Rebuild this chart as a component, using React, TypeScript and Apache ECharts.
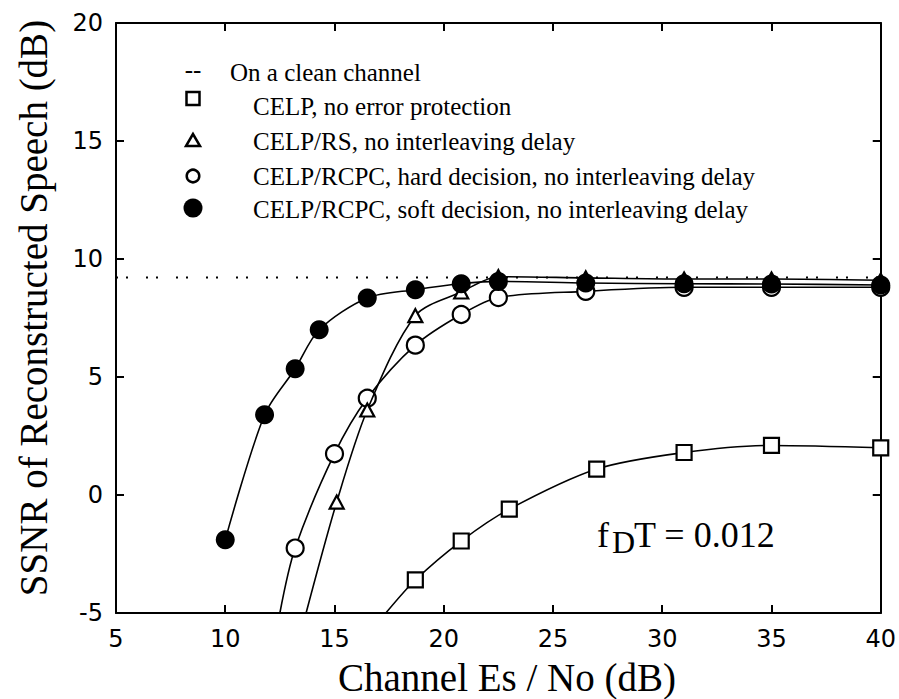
import React, { useEffect, useRef } from "react";
import * as echarts from "echarts";

// Axis ranges and ticks
const X_MIN = 5;
const X_MAX = 40;
const X_STEP = 5;
const Y_MIN = -5;
const Y_MAX = 20;
const Y_STEP = 5;

// "On a clean channel" reference level (dB)
const cleanChannelLevel = 9.22;

// CELP/RCPC, soft decision (filled circles)
const softX = [10, 11.8, 13.2, 14.3, 16.5, 18.7, 20.8, 22.5, 26.5, 31, 35, 40];
const softY = [-1.9, 3.4, 5.35, 7.0, 8.35, 8.7, 8.95, 9.05, 8.98, 8.95, 8.94, 8.9];

// CELP/RS (triangles)
const rsX = [15.1, 16.5, 18.7, 20.8, 22.5, 26.5, 31, 35, 40];
const rsY = [-0.3, 3.6, 7.6, 8.6, 9.25, 9.2, 9.15, 9.15, 9.1];
const rsCurveStart = [13.7, -5];

// CELP/RCPC, hard decision (open circles)
const hardX = [13.2, 15.0, 16.5, 18.7, 20.8, 22.5, 26.5, 31, 35, 40];
const hardY = [-2.25, 1.75, 4.1, 6.35, 7.65, 8.37, 8.63, 8.8, 8.8, 8.8];
const hardCurveStart = [12.5, -5];

// CELP, no error protection (squares)
const plainX = [18.7, 20.8, 23, 27, 31, 35, 40];
const plainY = [-3.6, -1.95, -0.6, 1.1, 1.8, 2.1, 2.0];
const plainCurveStart = [17.35, -5];

const legendLabels = [
  "On a clean channel",
  "CELP, no error protection",
  "CELP/RS, no interleaving delay",
  "CELP/RCPC, hard decision, no interleaving delay",
  "CELP/RCPC, soft decision, no interleaving delay",
];

const xTitle = "Channel Es / No (dB)";
const yTitle = "SSNR of Reconstructed Speech (dB)";

const SERIF = '"Liberation Serif", "Times New Roman", serif';
const SANS = '"DejaVu Sans", sans-serif';

function buildData(xs: number[], ys: number[], start?: number[]) {
  const out: any[] = [];
  if (start) out.push({ value: start, symbol: "none" });
  xs.forEach((x, i) => out.push({ value: [x, ys[i]] }));
  return out;
}

export default function App() {
  const ref = useRef<HTMLDivElement>(null);

  useEffect(() => {
    if (!ref.current) return;
    const chart = echarts.init(ref.current, undefined, { renderer: "svg" });

    const axisLine = { show: true, onZero: false, lineStyle: { color: "#000", width: 2 } };
    const axisTick = { show: true, inside: true, length: 8, lineStyle: { color: "#000", width: 2 } };
    const labelStyle = { color: "#000", fontFamily: SANS, fontSize: 24, fontWeight: "normal" };

    const lineBase = {
      type: "line",
      smooth: 0.3,
      silent: true,
      clip: true,
      lineStyle: { color: "#000", width: 1.6 },
      emphasis: { disabled: true },
    };

    const legendRows = [72, 106, 141, 176, 209];
    const symX = 193;

    const option: any = {
      animation: false,
      backgroundColor: "#fff",
      grid: { left: 116, right: 17, top: 23, bottom: 86, containLabel: false },
      xAxis: [
        {
          type: "value",
          min: X_MIN,
          max: X_MAX,
          interval: X_STEP,
          axisLine,
          axisTick,
          splitLine: { show: false },
          axisLabel: { ...labelStyle, margin: 14 },
        },
        {
          type: "value",
          position: "top",
          min: X_MIN,
          max: X_MAX,
          interval: X_STEP,
          axisLine,
          axisTick,
          splitLine: { show: false },
          axisLabel: { show: false },
        },
      ],
      yAxis: [
        {
          type: "value",
          min: Y_MIN,
          max: Y_MAX,
          interval: Y_STEP,
          axisLine,
          axisTick,
          splitLine: { show: false },
          axisLabel: { ...labelStyle, margin: 13 },
        },
        {
          type: "value",
          position: "right",
          min: Y_MIN,
          max: Y_MAX,
          interval: Y_STEP,
          axisLine,
          axisTick,
          splitLine: { show: false },
          axisLabel: { show: false },
        },
      ],
      series: [
        {
          type: "line",
          name: legendLabels[0],
          data: [
            [X_MIN, cleanChannelLevel],
            [X_MAX, cleanChannelLevel],
          ],
          symbol: "none",
          silent: true,
          lineStyle: { color: "#000", width: 2, type: [2, 8, 2, 18] },
          z: 1,
        },
        {
          ...lineBase,
          name: legendLabels[1],
          data: buildData(plainX, plainY, plainCurveStart),
          symbol: "rect",
          symbolSize: 15,
          itemStyle: { color: "#fff", borderColor: "#000", borderWidth: 2.2 },
          z: 2,
        },
        {
          ...lineBase,
          name: legendLabels[3],
          data: buildData(hardX, hardY, hardCurveStart),
          symbol: "circle",
          symbolSize: 17,
          itemStyle: { color: "#fff", borderColor: "#000", borderWidth: 2.2 },
          z: 3,
        },
        {
          ...lineBase,
          name: legendLabels[2],
          data: buildData(rsX, rsY, rsCurveStart),
          symbol: "triangle",
          symbolSize: [14, 13],
          itemStyle: { color: "#fff", borderColor: "#000", borderWidth: 2.2 },
          z: 4,
        },
        {
          ...lineBase,
          name: legendLabels[4],
          data: buildData(softX, softY),
          symbol: "circle",
          symbolSize: 19,
          itemStyle: { color: "#000", borderColor: "#000", borderWidth: 0 },
          z: 5,
        },
      ],
      graphic: [
        // legend
        {
          type: "text",
          x: symX,
          y: legendRows[0] - 3,
          style: { text: "--", fontFamily: SERIF, fontSize: 25, fill: "#000", align: "center", verticalAlign: "middle" },
        },
        {
          type: "text",
          x: 230,
          y: legendRows[0],
          style: { text: legendLabels[0], fontFamily: SERIF, fontSize: 25, fill: "#000", align: "left", verticalAlign: "middle" },
        },
        {
          type: "rect",
          shape: { x: symX - 6.5, y: 92, width: 13, height: 13 },
          style: { fill: "#fff", stroke: "#000", lineWidth: 2.5 },
        },
        {
          type: "polygon",
          shape: { points: [[symX, 134], [symX - 7, 146], [symX + 7, 146]] },
          style: { fill: "#fff", stroke: "#000", lineWidth: 2.5 },
        },
        {
          type: "circle",
          shape: { cx: symX, cy: 176, r: 6.3 },
          style: { fill: "#fff", stroke: "#000", lineWidth: 2.5 },
        },
        {
          type: "circle",
          shape: { cx: symX, cy: 208, r: 9.5 },
          style: { fill: "#000" },
        },
        ...[1, 2, 3, 4].map((i) => ({
          type: "text",
          x: 253,
          y: legendRows[i],
          style: { text: legendLabels[i], fontFamily: SERIF, fontSize: 25, fill: "#000", align: "left", verticalAlign: "middle" },
        })),
        // axis titles
        {
          type: "text",
          x: 507,
          y: 677,
          style: { text: xTitle, fontFamily: SERIF, fontSize: 39, fill: "#000", align: "center", verticalAlign: "middle" },
        },
        {
          type: "text",
          x: 33,
          y: 308,
          rotation: Math.PI / 2,
          style: { text: yTitle, fontFamily: SERIF, fontSize: 39, fill: "#000", align: "center", verticalAlign: "middle" },
        },
        // annotation f_D T = 0.012
        {
          type: "text",
          x: 597,
          y: 535,
          style: { text: "f", fontFamily: SERIF, fontSize: 36, fill: "#000", align: "left", verticalAlign: "middle" },
        },
        {
          type: "text",
          x: 612,
          y: 542,
          style: { text: "D", fontFamily: SERIF, fontSize: 32, fill: "#000", align: "left", verticalAlign: "middle" },
        },
        {
          type: "text",
          x: 634,
          y: 535,
          style: { text: "T = 0.012", fontFamily: SERIF, fontSize: 36, fill: "#000", align: "left", verticalAlign: "middle" },
        },
      ],
    };

    chart.setOption(option);
    return () => chart.dispose();
  }, []);

  return (
    <div
      ref={ref}
      style={{ position: "fixed", left: 0, top: 0, width: 899, height: 699, background: "#fff" }}
    />
  );
}
